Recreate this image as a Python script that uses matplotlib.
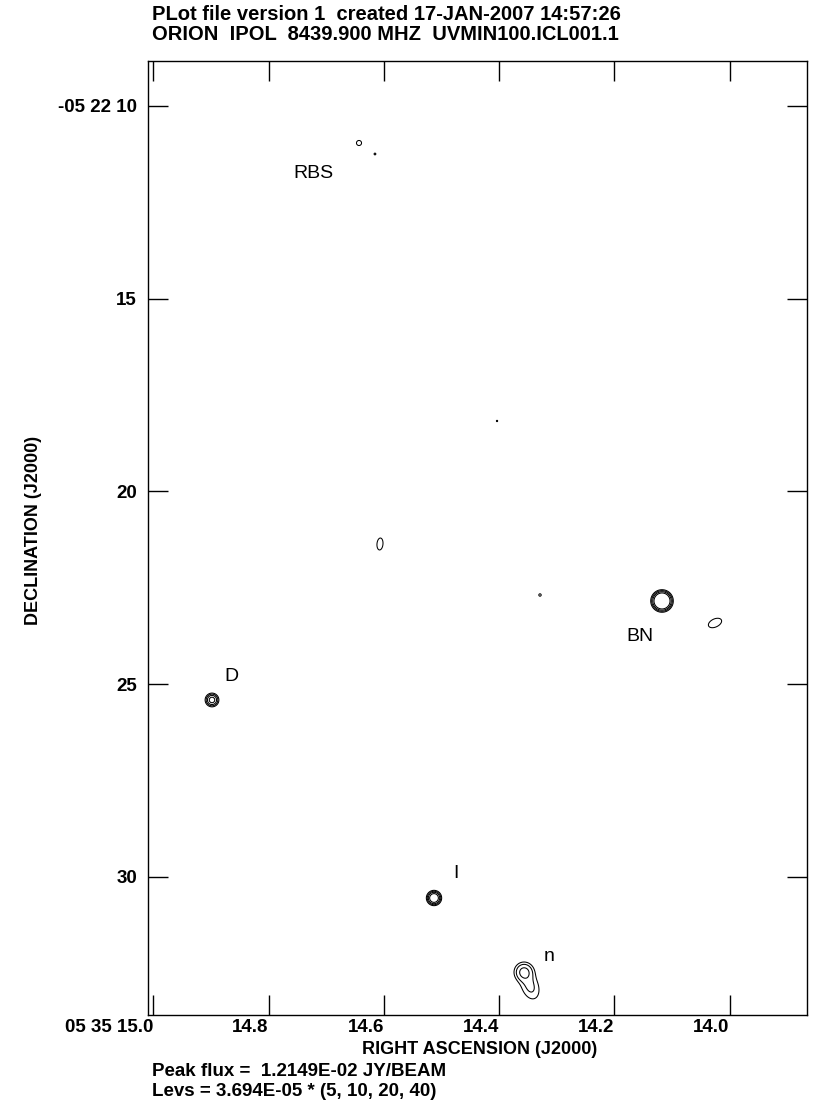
import numpy as np
import matplotlib
matplotlib.use("Agg")
import matplotlib.pyplot as plt

# AIPS style contour plot of Orion BN/KL field, IPOL 8439.9 MHz

# contour levels
lev_unit = 3.694e-05
lev_mult = [5, 10, 20, 40]

# sources: RA seconds (05 35 xx), Dec arcsec (-05 22 xx), peak Jy/beam,
# major / minor sigma (arcsec) and on-screen angle (deg)
src_ra = [14.6432, 14.6155, 14.4036, 14.6068, 14.3290, 14.1172, 14.0252,
          14.8984, 14.5130, 14.3568, 14.3464]
src_dec = [10.960, 11.245, 18.171, 21.362, 22.685, 22.840, 23.411,
           25.408, 30.545, 32.464, 32.827]
src_peak = [2.1e-04, 1.9e-04, 1.88e-04, 2.5e-04, 2.0e-04, 1.2149e-02, 2.5e-04,
            2.2e-03, 4.0e-03, 9.0e-04, 4.5e-04]
src_maj = [0.13, 0.10, 0.10, 0.20, 0.08, 0.101, 0.235,
           0.08, 0.08, 0.14, 0.26]
src_min = [0.13, 0.10, 0.10, 0.10, 0.08, 0.101, 0.135,
           0.08, 0.08, 0.14, 0.16]
src_ang = [0, 0, 0, 85, 0, 0, 25, 0, 0, 0, -70]

# source labels
lab_text = ["RBS", "BN", "D", "I", "n"]
lab_ra = [14.7231, 14.1554, 14.8655, 14.4748, 14.3134]
lab_dec = [11.74, 23.77, 24.81, 29.92, 32.05]

# axis ticks
ra_ticks = [15.0, 14.8, 14.6, 14.4, 14.2, 14.0]
ra_labels = ["05 35 15.0", "14.8", "14.6", "14.4", "14.2", "14.0"]
dec_ticks = [10, 15, 20, 25, 30]
dec_labels = ["-05 22 10", "15", "20", "25", "30"]

ra_lim = (15.0095, 13.8655)
dec_lim = (33.58, 8.833)

fam = ["Liberation Sans Narrow", "Liberation Sans", "DejaVu Sans"]
title_font = dict(family=fam, weight="bold", size=14.5)
tick_font = dict(family=fam, weight="bold", size=13.5)
axlab_font = dict(family=fam, weight="bold", size=13)
note_font = dict(family=fam, weight="bold", size=13.5)
lab_font = dict(family=["Liberation Sans", "DejaVu Sans"], size=14)

# build the model image on a grid
cosd = np.cos(np.deg2rad(5.37))
ra_g = np.linspace(ra_lim[1], ra_lim[0], 1150)
dec_g = np.linspace(dec_lim[1], dec_lim[0], 1650)
RA, DEC = np.meshgrid(ra_g, dec_g)
img = np.zeros_like(RA)
for i in range(len(src_ra)):
    X = -(RA - src_ra[i]) * 15 * cosd      # screen right
    Y = -(DEC - src_dec[i])                # screen up
    t = np.deg2rad(src_ang[i])
    u = X * np.cos(t) + Y * np.sin(t)
    v = -X * np.sin(t) + Y * np.cos(t)
    img += src_peak[i] * np.exp(-0.5 * ((u / src_maj[i]) ** 2 + (v / src_min[i]) ** 2))

levels = [lev_unit * m for m in lev_mult]

fig = plt.figure(figsize=(8.30, 11.17), dpi=100)
ax = fig.add_axes([148 / 830, 1 - 1015 / 1117, 659 / 830, 954 / 1117])
ax.contour(RA, DEC, img, levels=levels, colors="k", linewidths=0.75)

for t, x, y in zip(lab_text, lab_ra, lab_dec):
    ax.text(x, y, t, ha="center", va="center", **lab_font)

ax.set_xlim(*ra_lim)
ax.set_ylim(*dec_lim)
ax.set_xticks(ra_ticks)
ax.set_xticklabels(ra_labels, ha="right", **tick_font)
ax.set_yticks(dec_ticks)
ax.set_yticklabels(dec_labels, **tick_font)
ax.tick_params(which="both", direction="in", top=True, right=True,
               length=14.5, width=1, pad=3)
ax.tick_params(axis="y", pad=8)
for s in ax.spines.values():
    s.set_linewidth(1)

fig.text(152 / 830, 1 - 14 / 1117, "PLot file version 1  created 17-JAN-2007 14:57:26",
         ha="left", va="center", **title_font)
fig.text(152 / 830, 1 - 34 / 1117, "ORION  IPOL  8439.900 MHZ  UVMIN100.ICL001.1",
         ha="left", va="center", **title_font)
fig.text(480 / 830, 1 - 1050 / 1117, "RIGHT ASCENSION (J2000)",
         ha="center", va="center", **axlab_font)
fig.text(152 / 830, 1 - 1071 / 1117, "Peak flux =  1.2149E-02 JY/BEAM",
         ha="left", va="center", **note_font)
fig.text(152 / 830, 1 - 1091 / 1117, "Levs = 3.694E-05 * (5, 10, 20, 40)",
         ha="left", va="center", **note_font)
fig.text(33 / 830, 1 - 530 / 1117, "DECLINATION (J2000)", rotation=90,
         ha="center", va="center", **axlab_font)

fig.savefig("out.png", dpi=100)
